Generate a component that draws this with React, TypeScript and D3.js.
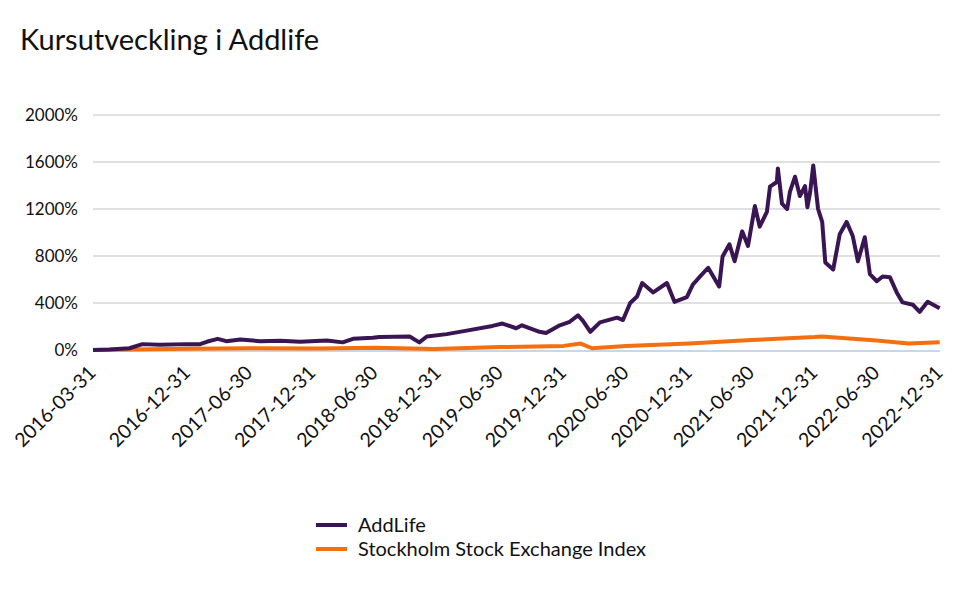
import React from "react";
import * as d3 from "d3";

const addlifeDates = [
  "2016-03-31","2016-05-18","2016-07-15","2016-08-22","2016-10-12","2016-12-28","2017-02-06","2017-02-25","2017-03-29","2017-04-23",
  "2017-06-03","2017-07-31","2017-09-27","2017-11-24","2018-02-10","2018-03-28","2018-04-27","2018-06-23","2018-07-13","2018-10-09",
  "2018-11-06","2018-11-28","2019-01-25","2019-03-24","2019-06-07","2019-07-06","2019-08-15","2019-09-01","2019-10-22","2019-11-10",
  "2019-12-20","2020-01-18","2020-02-11","2020-02-25","2020-03-18","2020-04-15","2020-06-04","2020-06-21","2020-07-12","2020-08-01",
  "2020-08-16","2020-09-17","2020-10-27","2020-11-18","2020-12-24","2021-01-10","2021-01-31","2021-02-24","2021-03-28","2021-04-07",
  "2021-04-27","2021-05-12","2021-06-03","2021-06-20","2021-07-10","2021-07-24","2021-08-14","2021-08-23","2021-09-12","2021-09-15",
  "2021-09-27","2021-10-12","2021-10-20","2021-11-04","2021-11-18","2021-12-03","2021-12-10","2021-12-18","2021-12-27","2022-01-10",
  "2022-01-22","2022-01-31","2022-02-23","2022-03-14","2022-04-03","2022-04-21","2022-05-06","2022-05-26","2022-06-10","2022-06-30",
  "2022-07-17","2022-08-07","2022-08-27","2022-09-13","2022-10-13","2022-11-02","2022-11-25","2022-12-30"
];
const addlifeValues = [
  0, 5, 15, 50, 45, 50, 50, 70, 95, 75,
  90, 75, 78, 70, 80, 65, 95, 105, 111, 115,
  65, 115, 135, 165, 205, 225, 185, 210, 155, 145,
  210, 240, 295, 250, 155, 235, 275, 255, 400, 455,
  570, 490, 570, 410, 450, 555, 625, 700, 540, 795,
  900, 755, 1010, 885, 1225, 1050, 1175, 1390, 1430, 1545,
  1245, 1200, 1345, 1475, 1310, 1395, 1215, 1345, 1570, 1200,
  1090, 745, 685, 985, 1090, 970, 755, 960, 645, 585,
  625, 620, 490, 405, 385, 325, 410, 355
];

const indexDates = [
  "2016-03-31","2016-12-31","2017-06-30","2018-01-15","2018-06-30","2018-12-20","2019-06-30","2019-12-31","2020-02-19","2020-03-23",
  "2020-06-30","2020-12-31","2021-06-30","2021-12-31","2022-01-20","2022-06-30","2022-09-30","2022-12-30"
];
const indexValues = [
  0, 10, 15, 12, 20, 8, 25, 35, 55, 15,
  35, 55, 85, 110, 115, 80, 55, 65
];

const yTicks = [0, 400, 800, 1200, 1600, 2000];
const xTickLabels = [
  "2016-03-31","2016-12-31","2017-06-30","2017-12-31","2018-06-30","2018-12-31","2019-06-30",
  "2019-12-31","2020-06-30","2020-12-31","2021-06-30","2021-12-31","2022-06-30","2022-12-31"
];

const seriesNames = ["AddLife", "Stockholm Stock Exchange Index"];
const seriesColors = ["#3a1553", "#f36f0f"];

const FONT = "Lato, 'Noto Sans', sans-serif";

export default function App() {
  const W = 960, H = 600;
  const left = 93, right = 940, top = 115, bottom = 350;
  const parse = d3.timeParse("%Y-%m-%d");
  const x = d3.scaleTime()
    .domain([parse("2016-03-31")!, parse("2022-12-31")!])
    .range([left, right]);
  const y = d3.scaleLinear().domain([0, 2000]).range([bottom, top]);

  const mk = (dates: string[], vals: number[]) =>
    dates.map((d, i) => ({ d: parse(d)!, v: vals[i] }));
  const a = mk(addlifeDates, addlifeValues);
  const b = mk(indexDates, indexValues);
  const line = d3.line<{ d: Date; v: number }>().x(p => x(p.d)).y(p => y(p.v));

  return (
    <svg width={W} height={H} style={{ display: "block", position: "absolute", left: 0, top: 0 }} fontFamily={FONT}>
      <rect width={W} height={H} fill="#fff" />
      <text x={20} y={50} fontSize={29} fill="#111">Kursutveckling i Addlife</text>
      {yTicks.map(t => (
        <g key={t}>
          {t > 0 && <line x1={left} x2={right} y1={y(t)} y2={y(t)} stroke="#e0e0e0" strokeWidth={2} />}
          <text x={78} y={y(t)} dy="0.35em" textAnchor="end" fontSize={17} fill="#111">{t}%</text>
        </g>
      ))}
      <line x1={left} x2={right} y1={bottom + 1} y2={bottom + 1} stroke="#c9d7ea" strokeWidth={2} />
      <path d={line(b) || ""} fill="none" stroke={seriesColors[1]} strokeWidth={4} strokeLinejoin="round" />
      <path d={line(a) || ""} fill="none" stroke={seriesColors[0]} strokeWidth={4} strokeLinejoin="round" />
      {xTickLabels.map(l => {
        const px = x(parse(l)!);
        return (
          <text key={l} transform={`translate(${px + 4},${374}) rotate(-45)`} textAnchor="end" fontSize={19.5} fill="#111">{l}</text>
        );
      })}
      {seriesNames.map((n, i) => (
        <g key={n} transform={`translate(316,${525 + i * 24})`}>
          <line x1={0} x2={31} y1={0} y2={0} stroke={seriesColors[i]} strokeWidth={4} />
          <text x={42} y={0} dy="0.35em" fontSize={20} fill="#111">{n}</text>
        </g>
      ))}
    </svg>
  );
}
